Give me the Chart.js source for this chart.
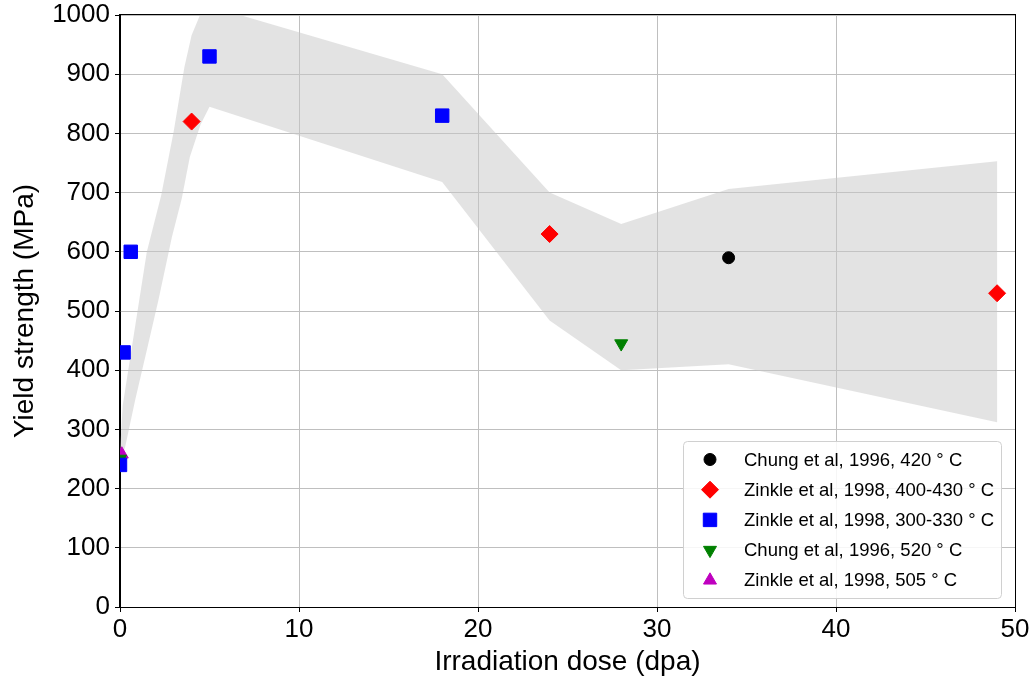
<!DOCTYPE html>
<html>
<head>
<meta charset="utf-8">
<script src="https://cdn.jsdelivr.net/npm/chart.js@4/dist/chart.umd.min.js"></script>
<style>
  html, body { margin: 0; padding: 0; background: #fff; }
</style>
</head>
<body>
<canvas id="chart" width="1035" height="683"></canvas>
<script>
// scatter series (dose in dpa, yield strength in MPa)
const chung420X = [34];
const chung420Y = [590];
const zinkle400X = [4, 24, 49];
const zinkle400Y = [820, 630, 530];
const zinkle300X = [0, 0.2, 0.6, 5, 18];
const zinkle300Y = [240, 430, 600, 930, 830];
const chung520X = [0, 28];
const chung520Y = [250, 445];
const zinkle505X = [0.1];
const zinkle505Y = [258];

// grey scatter band, upper and lower edges
const bandUpperX = [0, 0.15, 1.5, 2.3, 3.0, 3.6, 4.0, 4.5, 5, 18, 24, 28, 34, 49];
const bandUpperY = [262, 340, 600, 695, 803, 912, 966, 1002, 1015, 900, 700, 647, 706, 753];
const bandLowerX = [0, 0.3, 0.85, 1.5, 2.15, 2.9, 3.45, 3.9, 4.5, 5, 18, 24, 28, 34, 49];
const bandLowerY = [240, 272, 350, 434, 519, 625, 690, 760, 815, 845, 718, 484, 400, 410, 312];

const xTicks = [0, 10, 20, 30, 40, 50];
const yTicks = [0, 100, 200, 300, 400, 500, 600, 700, 800, 900, 1000];

const FONT = "'Liberation Sans', Arial, Helvetica, sans-serif";

function pts(xs, ys) {
  return xs.map((x, i) => ({ x: x, y: ys[i] }));
}

// polygon: along the upper edge, back along the lower edge
const bandPoints = pts(bandUpperX, bandUpperY)
  .concat(pts(bandLowerX, bandLowerY).reverse());

function series(label, xs, ys, color, style, radius, rotation) {
  return {
    label: label,
    data: pts(xs, ys),
    showLine: false,
    backgroundColor: color,
    borderColor: color,
    pointStyle: style,
    pointRadius: radius,
    pointHoverRadius: radius,
    pointRotation: rotation || 0,
    pointBorderWidth: 1,
    clip: 0
  };
}

const datasets = [
  series('Chung et al, 1996, 420 ° C', chung420X, chung420Y, '#000000', 'circle', 6),
  series('Zinkle et al, 1998, 400-430 ° C', zinkle400X, zinkle400Y, '#ff0000', 'rectRot', 8.5),
  series('Zinkle et al, 1998, 300-330 ° C', zinkle300X, zinkle300Y, '#0000ff', 'rect', 9.5),
  series('Chung et al, 1996, 520 ° C', chung520X, chung520Y, '#008000', 'triangle', 7.5, 180),
  series('Zinkle et al, 1998, 505 ° C', zinkle505X, zinkle505Y, '#bf00bf', 'triangle', 7.5)
];

const band = {
  label: 'band',
  data: bandPoints,
  showLine: true,
  fill: 'shape',
  backgroundColor: 'rgba(200,200,200,0.5)',
  borderWidth: 0,
  borderColor: 'rgba(0,0,0,0)',
  pointRadius: 0,
  pointHoverRadius: 0,
  tension: 0,
  clip: 0,
  order: 10
};

// top and right spines plus the boxed legend
const framePlugin = {
  id: 'frameAndLegend',
  afterDraw(chart) {
    const ctx = chart.ctx;
    const a = chart.chartArea;
    ctx.save();
    ctx.strokeStyle = '#000';
    ctx.lineWidth = 1;
    ctx.strokeRect(Math.round(a.left) - 0.5, Math.round(a.top) - 0.5,
      Math.round(a.right - a.left) + 1, Math.round(a.bottom - a.top) + 1);

    const bx = 683, by = 441, bw = 318, bh = 157;
    ctx.beginPath();
    ctx.roundRect(bx + 0.5, by + 0.5, bw, bh, 4);
    ctx.fillStyle = 'rgba(255,255,255,0.85)';
    ctx.fill();
    ctx.strokeStyle = '#d0d0d0';
    ctx.stroke();

    ctx.font = '18.5px ' + FONT;
    ctx.textBaseline = 'middle';
    ctx.textAlign = 'left';
    datasets.forEach((ds, i) => {
      const y = 459.5 + i * 30.2;
      ctx.fillStyle = ds.backgroundColor;
      ctx.strokeStyle = ds.borderColor;
      ctx.lineWidth = 1;
      Chart.helpers.drawPoint(ctx, {
        pointStyle: ds.pointStyle,
        radius: ds.pointRadius,
        rotation: ds.pointRotation,
        borderWidth: 1
      }, 710, y);
      ctx.fillStyle = '#000';
      ctx.fillText(ds.label, 744, y + 1);
    });
    ctx.restore();
  }
};

new Chart(document.getElementById('chart'), {
  type: 'scatter',
  data: { datasets: datasets.concat([band]) },
  options: {
    responsive: false,
    devicePixelRatio: 1,
    animation: false,
    layout: { padding: { top: 15, right: 20, bottom: 0, left: 0 } },
    plugins: {
      legend: { display: false },
      tooltip: { enabled: false }
    },
    scales: {
      x: {
        type: 'linear',
        min: 0,
        max: 50,
        afterFit: s => { s.height = 76; s.paddingLeft = 0; s.paddingRight = 0; },
        afterBuildTicks: s => { s.ticks = xTicks.map(v => ({ value: v })); },
        grid: { color: '#bfbfbf', lineWidth: 1, tickLength: 5, tickColor: '#000' },
        border: { color: '#000', width: 1 },
        ticks: {
          color: '#000',
          padding: 5,
          maxRotation: 0,
          font: { family: FONT, size: 26, lineHeight: 1 },
          callback: v => String(v)
        },
        title: {
          display: true,
          text: 'Irradiation dose (dpa)',
          color: '#000',
          padding: { top: 0, bottom: 4 },
          font: { family: FONT, size: 28 }
        }
      },
      y: {
        type: 'linear',
        min: 0,
        max: 1000,
        afterFit: s => { s.width = 120; s.paddingTop = 0; s.paddingBottom = 0; },
        afterBuildTicks: s => { s.ticks = yTicks.map(v => ({ value: v })); },
        grid: { color: '#bfbfbf', lineWidth: 1, tickLength: 5, tickColor: '#000' },
        border: { color: '#000', width: 1 },
        ticks: {
          color: '#000',
          padding: 5,
          font: { family: FONT, size: 26, lineHeight: 1 },
          callback: v => String(v)
        },
        title: {
          display: true,
          text: 'Yield strength (MPa)',
          color: '#000',
          padding: { top: 8, bottom: 0 },
          font: { family: FONT, size: 28 }
        }
      }
    }
  },
  plugins: [framePlugin]
});
</script>
</body>
</html>
